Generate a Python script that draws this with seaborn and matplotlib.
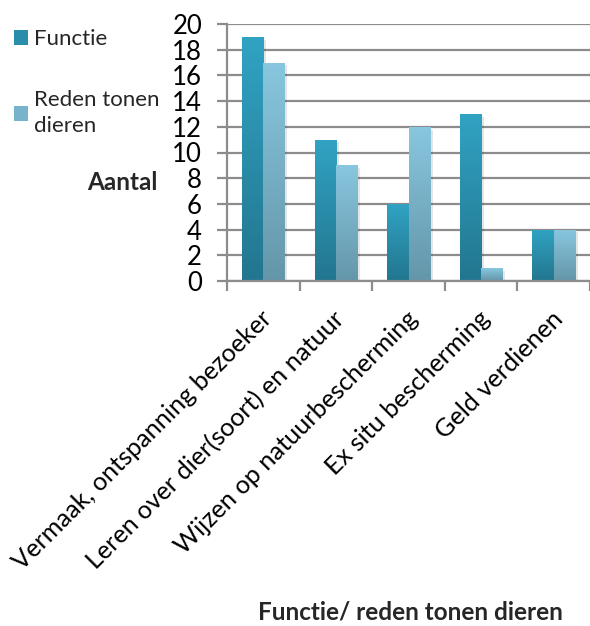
import numpy as np
import pandas as pd
import matplotlib
matplotlib.use("Agg")
import matplotlib.pyplot as plt
import matplotlib.patheffects as pe
from matplotlib.patches import Patch
from matplotlib.colors import LinearSegmentedColormap
from matplotlib.transforms import ScaledTranslation
import seaborn as sns

categories = ["Vermaak, ontspanning bezoeker", "Leren over dier(soort) en natuur",
              "Wijzen op natuurbescherming", "Ex situ bescherming", "Geld verdienen"]
functie = [19, 11, 6, 13, 4]
reden = [17, 9, 12, 1, 4]
series_names = ["Functie", "Reden tonen\ndieren"]
y_ticks = [0, 2, 4, 6, 8, 10, 12, 14, 16, 18, 20]

df = pd.DataFrame({
    "cat": categories * 2,
    "val": functie + reden,
    "serie": [series_names[0]] * 5 + [series_names[1]] * 5,
})

sns.set_theme(style="white")
plt.rcParams["font.family"] = ["Lato", "DejaVu Sans"]

grad = {
    series_names[0]: ("#22768F", "#31A3C3"),
    series_names[1]: ("#6496A9", "#88C7DF"),
}
flat = {series_names[0]: "#2A8DAB", series_names[1]: "#77B3CA"}

fig = plt.figure(figsize=(5.9, 6.26), dpi=100)
ax = fig.add_axes([227 / 590, 1 - 281 / 626, 363 / 590, 257 / 626])

sns.barplot(data=df, x="cat", y="val", hue="serie", order=categories,
            hue_order=series_names, palette=flat, width=0.585, ax=ax,
            legend=False, saturation=1, edgecolor="none")

# gradient fill + soft shadow
for container, name in zip(ax.containers, series_names):
    cmap = LinearSegmentedColormap.from_list(name, list(grad[name]))
    for bar in container:
        x0 = bar.get_x()
        w = bar.get_width()
        h = bar.get_height()
        if h <= 0:
            continue
        bar.set_path_effects([pe.SimplePatchShadow(offset=(2, -2), shadow_rgbFace="#000000", alpha=0.10),
                              pe.Normal()])
        g = np.linspace(0, 1, 256).reshape(-1, 1)
        im = ax.imshow(g, cmap=cmap, origin="lower", aspect="auto",
                       extent=[x0, x0 + w, 0, h], zorder=bar.get_zorder() + 0.1,
                       interpolation="bicubic")
        im.set_clip_path(bar)

ax.set_xlim(-0.5, -0.5 + 363 / 73.5)
ax.set_ylim(0, 20)

grid_c = "#8C8C8C"
ax.set_yticks(y_ticks)
ax.yaxis.grid(True, color=grid_c, lw=1.6)
ax.xaxis.grid(False)
ax.set_axisbelow(True)
for s in ["top", "right"]:
    ax.spines[s].set_visible(False)
for s in ["left", "bottom"]:
    ax.spines[s].set_color(grid_c)
    ax.spines[s].set_linewidth(1.6)

ax.set_xticks(np.arange(-0.5, 4.6, 1.0), minor=True)
ax.tick_params(axis="x", which="minor", length=7, width=1.6, color=grid_c, direction="out", bottom=True)
ax.tick_params(axis="x", which="major", length=0, pad=0, labelsize=18.2, labelcolor="#000000")
ax.tick_params(axis="y", which="major", length=7, width=1.6, color=grid_c, direction="out",
               left=True, pad=11, labelsize=18.5, labelcolor="#000000")

ax.set_xticks(range(len(categories)))
ax.set_xticklabels(categories)
offset = ScaledTranslation(5 / 100, -34 / 100, fig.dpi_scale_trans)
for lbl in ax.get_xticklabels():
    lbl.set_rotation(45)
    lbl.set_rotation_mode("anchor")
    lbl.set_ha("right")
    lbl.set_va("center")
    lbl.set_transform(lbl.get_transform() + offset)

ax.set_xlabel("")
ax.set_ylabel("Aantal", rotation=0, fontsize=17.5, fontweight="bold", ha="right", va="center")
ax.yaxis.set_label_coords((158 - 227) / 363, (281 - 183) / 257)

fig.text(410 / 590, 1 - 612 / 626, "Functie/ reden tonen dieren", ha="center", va="center",
         fontsize=17.5, fontweight="bold")

handles = [Patch(facecolor=flat[n], edgecolor="none") for n in series_names]
leg = fig.legend(handles, series_names, loc="upper left", bbox_to_anchor=(5 / 590, 1 - 20 / 626),
                 frameon=False, fontsize=16, handlelength=0.65, handleheight=0.65,
                 handletextpad=0.25, labelspacing=1.85, borderaxespad=0)
for t in leg.get_texts():
    t.set_linespacing(1.4)

fig.savefig("out.png", dpi=100)
